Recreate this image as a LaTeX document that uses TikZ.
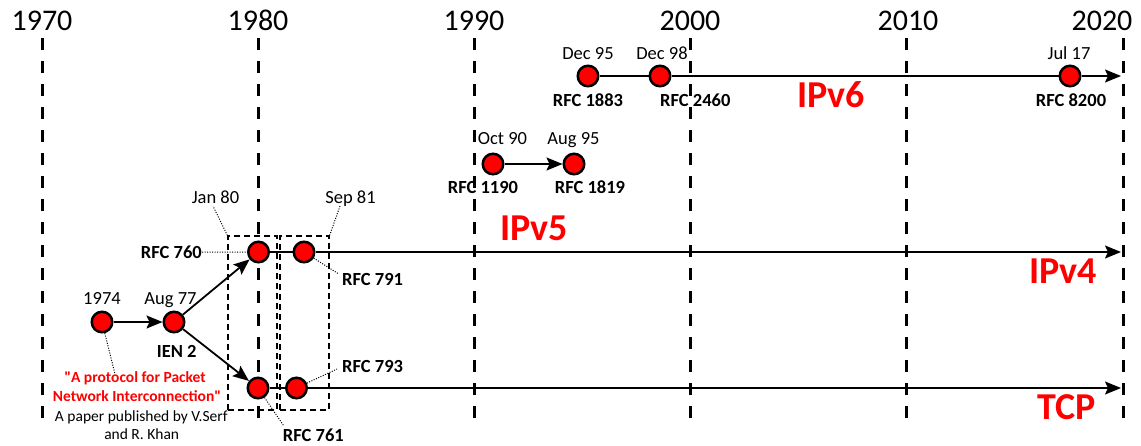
\documentclass[tikz,border=0pt]{standalone}
\usepackage{fontspec}
\setmainfont{Carlito}
\newfontfamily\qfont{Carlito}[Ligatures=ResetAll]
\usetikzlibrary{arrows.meta}
\definecolor{pred}{RGB}{255,0,0}
\newcommand{\sq}{{\qfont\bfseries"}}
\begin{document}
\begin{tikzpicture}[x=1pt,y=-1pt,
 ev/.style={circle,draw=black,fill=pred,line width=2.5pt,minimum size=20.5pt,inner sep=0pt},
 year/.style={font=\fontsize{30}{30}\selectfont,inner sep=0pt,anchor=base},
 grid/.style={line width=3pt,dash pattern=on 12pt off 11pt},
 date/.style={font=\fontsize{18.5}{20}\selectfont,inner sep=0pt,anchor=base},
 rfc/.style={font=\fontsize{18.5}{20}\selectfont\bfseries,inner sep=0pt,anchor=base},
 big/.style={font=\fontsize{38}{38}\selectfont\bfseries,text=pred,inner sep=0pt,anchor=base},
 note/.style={font=\fontsize{15.5}{18}\selectfont,inner sep=0pt,anchor=base},
 link/.style={line width=1.8pt},
 thick link/.style={line width=2.8pt},
 arr/.style={line width=1.8pt,-{Stealth[length=16pt,width=13pt,inset=3pt]}},
 callout/.style={line width=1pt,dash pattern=on 1pt off 1.5pt},
 dbox/.style={draw,line width=1.3pt,dash pattern=on 6pt off 4pt,inner sep=0pt,minimum width=49pt,minimum height=174pt},
]
\useasboundingbox (0,0) rectangle (1141,445);
% year grid
\foreach \yr/\gx/\lx in {1970/42/42,1980/258.2/258,1990/474.4/474,2000/690.6/690,2010/906.8/908,2020/1123/1102}{
  \draw[grid] (\gx,38) -- (\gx,420);
  \node[year] (y\yr) at (\lx,30) {\yr};
}
% dashed boxes
\node[dbox] (box1) at (252.5,323) {};
\node[dbox] (box2) at (304.5,323) {};
% events
\node[ev] (n1974) at (102,322) {};
\node[ev] (ien2) at (174,322) {};
\node[ev] (r760) at (258.5,252) {};
\node[ev] (r791) at (304,252) {};
\node[ev] (r761) at (258,388) {};
\node[ev] (r793) at (296.5,388) {};
\node[ev] (r1190) at (493,164) {};
\node[ev] (r1819) at (574,164) {};
\node[ev] (r1883) at (588,76) {};
\node[ev] (r2460) at (660,76) {};
\node[ev] (r8200) at (1070,76) {};
\coordinate (e6) at (1121,76);
\coordinate (e4) at (1121,252);
\coordinate (e3) at (1121,388);
% connectors
\draw[arr] (n1974) -- (ien2);
\draw[arr] (ien2) -- (r760);
\draw[arr] (ien2) -- (r761);
\draw[thick link] (r760) -- (r791);
\draw[thick link] (r761) -- (r793);
\draw[arr] (r791) -- (e4);
\draw[arr] (r793) -- (e3);
\draw[arr] (r1190) -- (r1819);
\draw[link] (r1883) -- (r2460);
\draw[link] (r2460) -- (r8200);
\draw[arr] (r8200) -- (e6);
% dates
\node[date] (d1974) at (102,304.3) {1974};
\node[date] (d77) at (170.5,304.3) {Aug 77};
\node[date] (d80) at (215.5,203.3) {Jan 80};
\node[date] (d81) at (350.5,203.3) {Sep 81};
\node[date] (d90) at (502.5,144.3) {Oct 90};
\node[date] (d95a) at (573.5,144.3) {Aug 95};
\node[date] (d95) at (588,59) {Dec 95};
\node[date] (d98) at (662,59) {Dec 98};
\node[date] (d17) at (1069,59.5) {Jul 17};
% rfc labels
\node[rfc] (lien) at (176.7,357.7) {IEN 2};
\node[rfc,anchor=base east] (l760) at (202,258.3) {RFC 760};
\node[rfc,anchor=base west] (l791) at (342,285) {RFC 791};
\node[rfc,anchor=base west] (l793) at (342,372.7) {RFC 793};
\node[rfc,anchor=base west] (l761) at (282.7,441.7) {RFC 761};
\node[rfc] (l1190) at (483,193.3) {RFC 1190};
\node[rfc] (l1819) at (590,193.3) {RFC 1819};
\node[rfc] (l1883) at (588,106) {RFC 1883};
\node[rfc,anchor=base west] (l2460) at (660,106) {RFC 2460};
\node[rfc] (l8200) at (1071,106) {RFC 8200};
% big labels
\node[big] (ipv6) at (831,107.7) {IPv6};
\node[big] (ipv5) at (534,240.7) {IPv5};
\node[big] (ipv4) at (1063,283.3) {IPv4};
\node[big] (tcp) at (1067,419.3) {TCP};
% paper note
\node[note,font=\fontsize{15.5}{18}\selectfont\bfseries,text=pred] (q1) at (135,382.7) {\sq A protocol for Packet};
\node[note,font=\fontsize{15.5}{18}\selectfont\bfseries,text=pred] (q2) at (137,401.7) {Network Interconnection\sq};
\node[note] (p1) at (141.3,421.7) {A paper published by V.Serf};
\node[note] (p2) at (141.7,439.3) {and R. Khan};
% callouts
\coordinate (c1974) at (115,374);
\coordinate (c80) at (213,206);
\coordinate (c81) at (340,206);
\coordinate (c791) at (338,273.5);
\coordinate (c793) at (337,369);
\coordinate (c761) at (283.5,425.5);
\draw[callout] (n1974) -- (c1974);
\draw[callout] (box1.north west) -- (c80);
\draw[callout] (box2.north east) -- (c81);
\draw[callout] (l760.east) -- (r760);
\draw[callout] (r791) -- (c791);
\draw[callout] (r793) -- (c793);
\draw[callout] (r761) -- (c761);
\end{tikzpicture}
\end{document}
